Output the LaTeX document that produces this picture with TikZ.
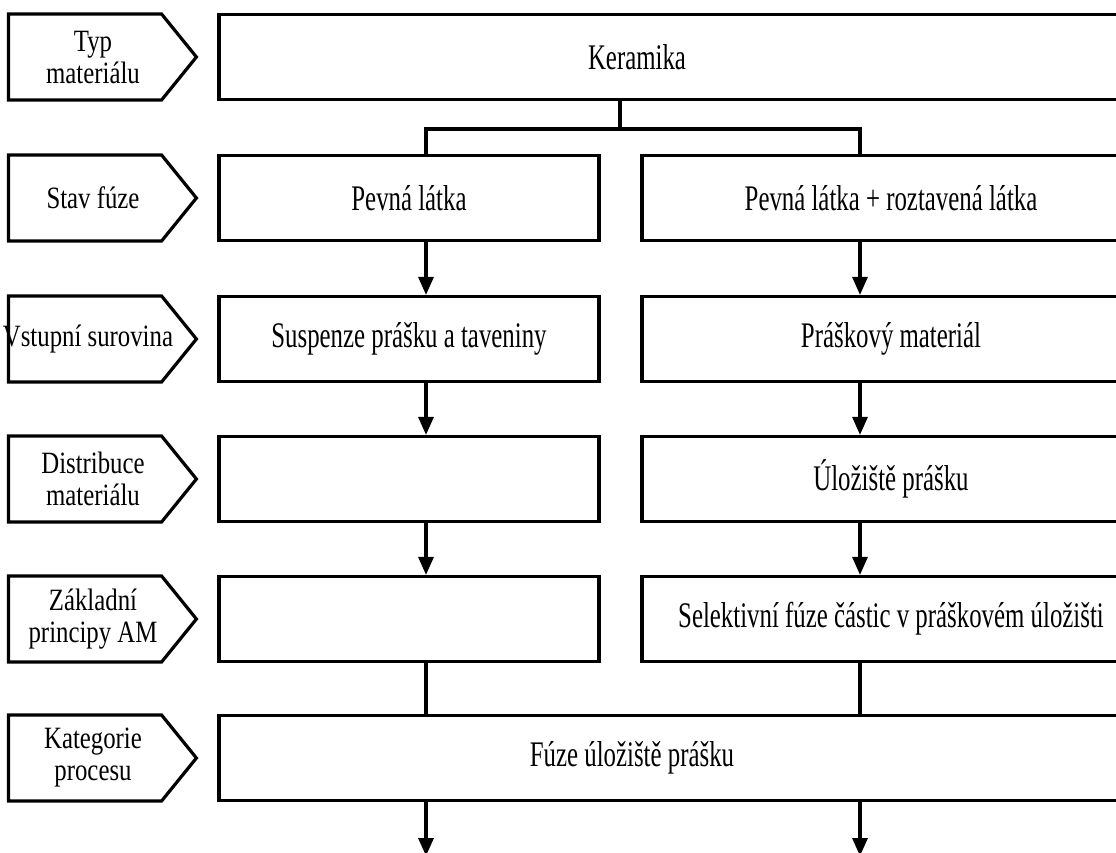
\documentclass[tikz,border=0pt]{standalone}
\usepackage{fontspec}
\setmainfont[FakeStretch=0.69]{Liberation Serif}
\newfontfamily\tagfont[FakeStretch=0.8]{Liberation Serif}
\usetikzlibrary{positioning, arrows.meta, shapes.symbols}

\begin{document}
\begin{tikzpicture}[x=1pt, y=-1pt,
    tag/.style={signal, signal to=east, signal pointer angle=102,
                draw=black, line width=3.2pt, inner sep=0pt,
                minimum width=188, minimum height=86},
    tagtxt/.style={align=center, inner sep=0pt,
                font=\tagfont\fontsize{31}{32}\selectfont},
    boxtxt/.style={align=center, inner sep=0pt,
                font=\fontsize{36}{33}\selectfont},
    box/.style={rectangle, draw=black, line width=3.2pt, inner sep=0pt,
                minimum height=85, align=center,
                font=\fontsize{36}{33}\selectfont},
    lbox/.style={box, minimum width=380},
    rbox/.style={box, minimum width=498},
    wbox/.style={box, minimum width=911},
    ln/.style={line width=3.2pt, color=black},
    arr/.style={-{Triangle[length=18pt, width=15pt]}, line width=3.2pt, color=black}]

  \useasboundingbox (0,0) rectangle (1116,852);

  %--- Popisky vlevo ---
  \node[tag] (t1) at (85,57)  {};
  \node[tag] (t2) at (85,198) {};
  \node[tag] (t3) at (85,339) {};
  \node[tag] (t4) at (85,479) {};
  \node[tag] (t5) at (85,619) {};
  \node[tag] (t6) at (85,758) {};
  \node[tagtxt] (t1txt) at ([xshift=8pt]t1.center) {Typ\\materiálu};
  \node[tagtxt] (t2txt) at ([xshift=8pt]t2.center) {Stav fúze};
  \node[tagtxt] (t3txt) at ([xshift=3pt]t3.center) {Vstupní surovina};
  \node[tagtxt] (t4txt) at ([xshift=8pt]t4.center) {Distribuce\\materiálu};
  \node[tagtxt] (t5txt) at ([xshift=8pt]t5.center) {Základní\\principy AM};
  \node[tagtxt] (t6txt) at ([xshift=8pt]t6.center) {Kategorie\\procesu};

  %--- Materiál ---
  \node[wbox] (ker) at (674.5,57) {};
  \node[boxtxt] (kertxt) at (637,57) {Keramika};

  %--- Levý sloupec ---
  \node[lbox] (pl) at (409,198) {Pevná látka};
  \node[lbox] (sl) at (409,339) {Suspenze prášku a taveniny};
  \node[lbox] (dl) at (409,479) {};
  \node[lbox] (zl) at (409,619) {};

  %--- Pravý sloupec ---
  \node[rbox] (pr) at (891,198) {Pevná látka + roztavená látka};
  \node[rbox] (sr) at (891,339) {Práškový materiál};
  \node[rbox] (dr) at (891,479) {Úložiště prášku};
  \node[rbox] (zr) at (891,619) {Selektivní fúze částic v práškovém úložišti};

  %--- Kategorie ---
  \node[wbox] (kat) at (674.5,758) {};
  \node[boxtxt] (kattxt) at (632,758) {Fúze úložiště prášku};

  %--- Spojnice ---
  \coordinate (cl) at (426,0);
  \coordinate (cr) at (860,0);
  \coordinate (jn) at (620,129);
  \coordinate (endl) at (426,856);
  \coordinate (endr) at (860,856);

  \draw[ln] (ker.south -| jn) -- (jn);
  \draw[ln] (jn) -| (pl.north -| cl);
  \draw[ln] (jn) -| (pr.north -| cr);

  \draw[arr] (pl.south -| cl) -- (sl.north -| cl);
  \draw[arr] (sl.south -| cl) -- (dl.north -| cl);
  \draw[arr] (dl.south -| cl) -- (zl.north -| cl);
  \draw[arr] (pr.south -| cr) -- (sr.north -| cr);
  \draw[arr] (sr.south -| cr) -- (dr.north -| cr);
  \draw[arr] (dr.south -| cr) -- (zr.north -| cr);

  \draw[ln] (zl.south -| cl) -- (kat.north -| cl);
  \draw[ln] (zr.south -| cr) -- (kat.north -| cr);

  \draw[arr] (kat.south -| cl) -- (endl);
  \draw[arr] (kat.south -| cr) -- (endr);
\end{tikzpicture}
\end{document}
